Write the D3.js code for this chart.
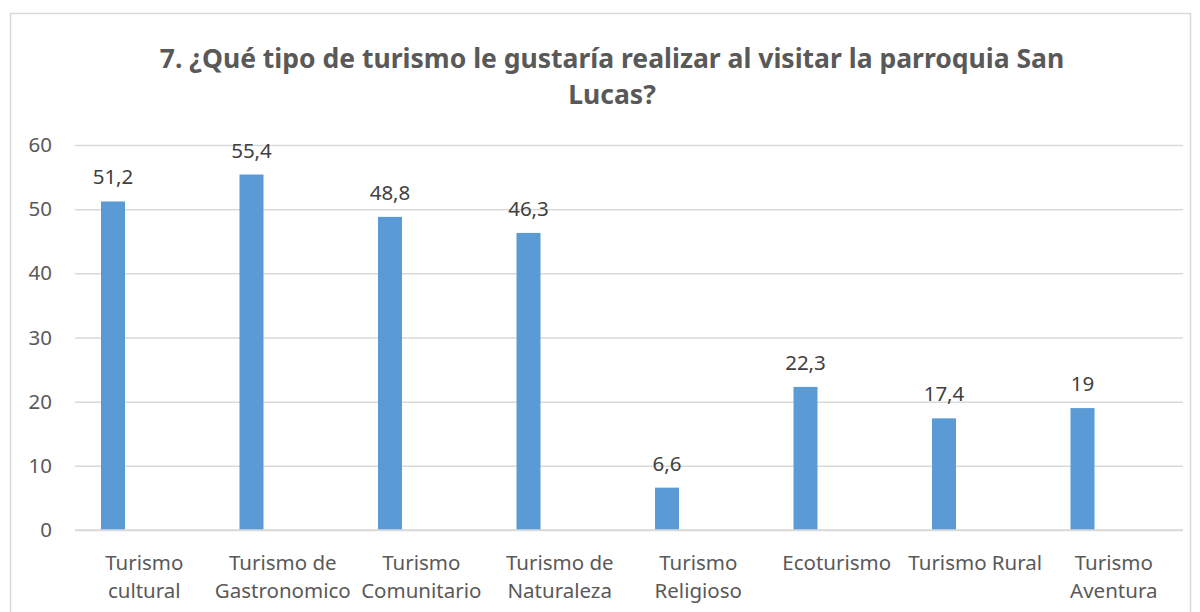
<!DOCTYPE html>
<html>
<head>
<meta charset="utf-8">
<script src="https://cdn.jsdelivr.net/npm/d3@7"></script>
<style>
  body { margin: 0; background: #fff; }
  svg { display: block; font-family: "Noto Sans", sans-serif; }
</style>
</head>
<body>
<svg id="chart"></svg>
<script>
// chart data
const categories = [
    ['Turismo', 'cultural'],
    ['Turismo de', 'Gastronomico'],
    ['Turismo', 'Comunitario'],
    ['Turismo de', 'Naturaleza'],
    ['Turismo', 'Religioso'],
    ['Ecoturismo'],
    ['Turismo Rural'],
    ['Turismo', 'Aventura']
];
const values = [51.2, 55.4, 48.8, 46.3, 6.6, 22.3, 17.4, 19];
const yTicks = [0, 10, 20, 30, 40, 50, 60];
const titleLines = ['7. ¿Qué tipo de turismo le gustaría realizar al visitar la parroquia San', 'Lucas?'];

const width = 1200, height = 612;
const margin = {top: 145, right: 17, bottom: 82, left: 75};
const innerW = width - margin.left - margin.right;
const innerH = height - margin.top - margin.bottom;
const labelSize = 20.5;

const svg = d3.select('#chart')
    .attr('width', width)
    .attr('height', height);

// outer chart border
svg.append('rect')
    .attr('x', 10.5).attr('y', 13.5)
    .attr('width', 1180).attr('height', 620)
    .attr('fill', 'none')
    .attr('stroke', '#d9d9d9')
    .attr('stroke-width', 1.5);

// title, scaled to fit the width of the original
const title = svg.append('text')
    .attr('text-anchor', 'middle')
    .attr('font-weight', 'bold')
    .attr('fill', '#595959')
    .attr('font-size', 25);
title.selectAll('tspan')
    .data(titleLines)
    .join('tspan')
    .attr('x', 612)
    .attr('y', (d, i) => 68 + i * 36)
    .text(d => d);
const firstW = title.select('tspan').node().getComputedTextLength();
title.attr('font-size', 25 * 905 / firstW);

const chart = svg.append('g')
    .attr('transform', `translate(${margin.left},${margin.top})`);

const xScale = d3.scaleBand()
    .domain(d3.range(categories.length))
    .range([0, innerW]);

// clustered layout: the visible series sits in the left slot of each group
const xInner = d3.scaleBand()
    .domain(['a', 'b'])
    .range([0, xScale.bandwidth()])
    .paddingInner(0.616)
    .paddingOuter(0.416);

const yScale = d3.scaleLinear()
    .domain([0, 60])
    .range([innerH, 0]);

const yAxis = d3.axisLeft(yScale)
    .tickValues(yTicks)
    .tickSize(-innerW)
    .tickPadding(23);

chart.append('g')
    .attr('class', 'axis y-axis')
    .call(yAxis)
    .call(g => g.select('.domain').remove())
    .call(g => g.selectAll('.tick line').attr('stroke', '#d9d9d9').attr('stroke-width', 1.5))
    .call(g => g.selectAll('.tick text')
        .attr('fill', '#595959')
        .attr('font-size', labelSize)
        .attr('font-family', '"Noto Sans", sans-serif'));

// bars
chart.selectAll('.bar')
    .data(values)
    .join('rect')
    .attr('class', 'bar')
    .attr('x', (d, i) => xScale(i) + xInner('a'))
    .attr('width', xInner.bandwidth())
    .attr('y', d => yScale(d))
    .attr('height', d => innerH - yScale(d))
    .attr('fill', '#5b9bd5');

// data labels
chart.selectAll('.value-label')
    .data(values)
    .join('text')
    .attr('class', 'value-label')
    .attr('x', (d, i) => xScale(i) + xInner('a') + xInner.bandwidth() / 2)
    .attr('y', d => yScale(d) - 17)
    .attr('text-anchor', 'middle')
    .attr('fill', '#404040')
    .attr('font-size', labelSize)
    .text(d => String(d).replace('.', ','));

// x labels
const xLabels = chart.selectAll('.x-label')
    .data(categories)
    .join('text')
    .attr('class', 'x-label')
    .attr('text-anchor', 'middle')
    .attr('fill', '#595959')
    .attr('font-size', labelSize);
xLabels.selectAll('tspan')
    .data((d, i) => d.map(line => ({line, i})))
    .join('tspan')
    .attr('x', d => xScale(d.i) + xScale.bandwidth() / 2)
    .attr('y', (d, j) => innerH + 40 + j * 28)
    .text(d => d.line);

// zero line on top
chart.append('line')
    .attr('x1', 0).attr('x2', innerW)
    .attr('y1', innerH).attr('y2', innerH)
    .attr('stroke', '#d9d9d9')
    .attr('stroke-width', 1.5);
</script>
</body>
</html>
